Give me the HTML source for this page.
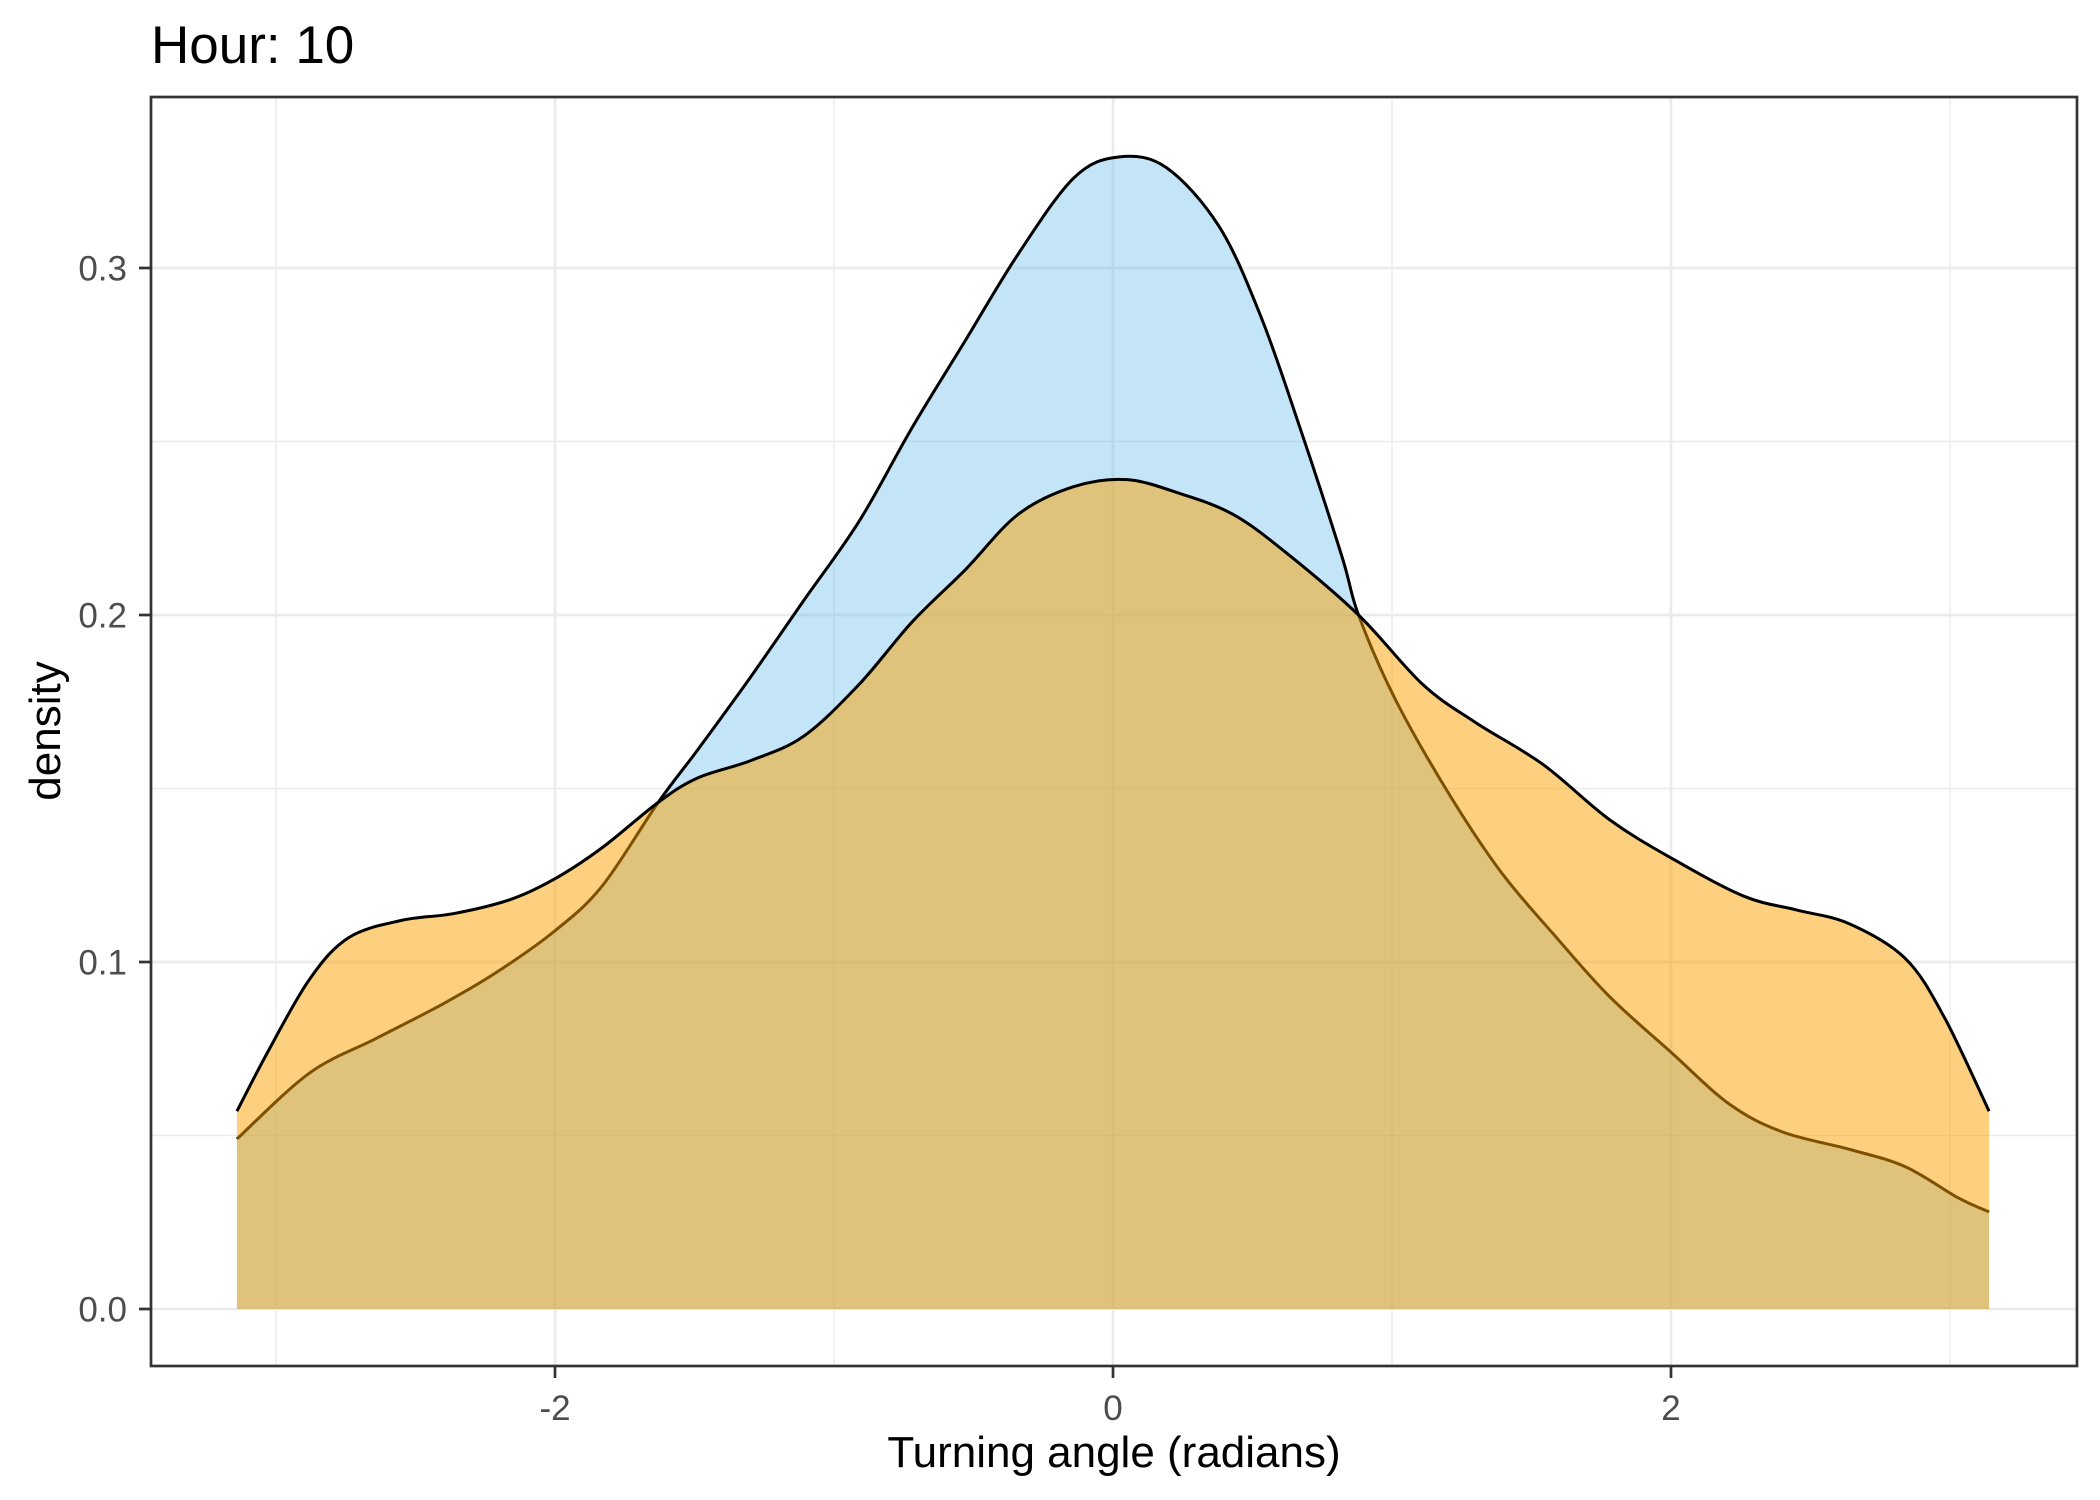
<!DOCTYPE html>
<html><head><meta charset="utf-8"><style>
html,body{margin:0;padding:0;background:#fff;}
svg{display:block;font-family:"Liberation Sans",Arial,sans-serif;}
</style></head><body>
<svg id="chart" width="2100" height="1500" viewBox="0 0 2100 1500" xmlns="http://www.w3.org/2000/svg">
<rect x="0" y="0" width="2100" height="1500" fill="#fff"/>
<text x="151" y="63" font-size="53" fill="#000">Hour: 10</text>
<g id="grid"></g>
<g id="series"></g>
<rect x="151" y="97" width="1926" height="1269" fill="none" stroke="#333" stroke-width="2.7"/>
<g id="axes"></g>
<text x="1114" y="1467" font-size="44" text-anchor="middle" fill="#000">Turning angle (radians)</text>
<text transform="translate(60,731) rotate(-90)" font-size="44" text-anchor="middle" fill="#000">density</text>
</svg>
<script>
const angles = [-3.14,-2.88,-2.64,-2.4,-2.21,-2.0,-1.83,-1.63,-1.49,-1.3,-1.11,-0.91,-0.72,-0.53,-0.34,-0.14,0.02,0.19,0.38,0.53,0.67,0.82,0.88,1.01,1.2,1.39,1.59,1.78,2.0,2.21,2.4,2.64,2.84,3.03,3.14];
const blueDensity = [0.049,0.068,0.078,0.088,0.097,0.109,0.122,0.146,0.161,0.182,0.204,0.227,0.254,0.279,0.304,0.326,0.332,0.329,0.312,0.286,0.254,0.217,0.2,0.176,0.149,0.126,0.107,0.09,0.074,0.059,0.051,0.046,0.041,0.032,0.028];
const orangeAngles = [-3.14,-3.03,-2.88,-2.74,-2.55,-2.36,-2.16,-2.0,-1.83,-1.63,-1.49,-1.3,-1.11,-0.91,-0.72,-0.53,-0.34,-0.14,0.05,0.24,0.43,0.62,0.88,1.11,1.3,1.54,1.78,2.0,2.26,2.45,2.64,2.84,2.98,3.14];
const orangeDensity = [0.057,0.074,0.095,0.107,0.112,0.114,0.118,0.124,0.133,0.146,0.153,0.158,0.165,0.18,0.198,0.213,0.229,0.237,0.239,0.235,0.229,0.218,0.2,0.18,0.169,0.157,0.141,0.13,0.119,0.115,0.111,0.101,0.084,0.057];
const xMajor = [-2,0,2];
const xMinor = [-3,-1,1,3];
const yMajor = [0,0.1,0.2,0.3];
const yMinor = [0.05,0.15,0.25];
const yLabels = ["0.0","0.1","0.2","0.3"];
const xLabels = ["-2","0","2"];

const NS="http://www.w3.org/2000/svg";
const X=v=>1113+279*v;
const Y=v=>1309-3470*v;
const L=151,R=2077,T=97,B=1366;
function mk(tag,attrs,parent){const e=document.createElementNS(NS,tag);for(const k in attrs)e.setAttribute(k,attrs[k]);parent.appendChild(e);return e;}
const grid=document.getElementById('grid'),axes=document.getElementById('axes'),series=document.getElementById('series');
xMinor.forEach(v=>{const e=mk('line',{x1:X(v),x2:X(v),y1:T,y2:B,stroke:'#EBEBEB','stroke-width':1.4},grid);

});
yMinor.forEach(v=>{const e=mk('line',{x1:L,x2:R,y1:Y(v),y2:Y(v),stroke:'#EBEBEB','stroke-width':1.4},grid);

});
xMajor.forEach((v,i)=>{const e=mk('line',{x1:X(v),x2:X(v),y1:T,y2:B,stroke:'#EBEBEB','stroke-width':2.7},grid);


const t=mk('line',{x1:X(v),x2:X(v),y1:B,y2:B+12,stroke:'#333','stroke-width':2.7},axes);


const l=mk('text',{x:X(v),y:1420,'font-size':35,'text-anchor':'middle',fill:'#4D4D4D'},axes);l.textContent=xLabels[i];

});
yMajor.forEach((v,i)=>{const e=mk('line',{x1:L,x2:R,y1:Y(v),y2:Y(v),stroke:'#EBEBEB','stroke-width':2.7},grid);


const t=mk('line',{x1:L-12,x2:L,y1:Y(v),y2:Y(v),stroke:'#333','stroke-width':2.7},axes);


const l=mk('text',{x:127,y:Y(v)+12.5,'font-size':35,'text-anchor':'end',fill:'#4D4D4D'},axes);l.textContent=yLabels[i];

});
function smooth(xs,ys){const p=xs.map((x,i)=>[X(x),Y(ys[i])]);let d='M'+p[0][0]+','+p[0][1];
for(let i=0;i<p.length-1;i++){const p0=p[Math.max(i-1,0)],p1=p[i],p2=p[i+1],p3=p[Math.min(i+2,p.length-1)];
const c1=[p1[0]+(p2[0]-p0[0])/6,p1[1]+(p2[1]-p0[1])/6],c2=[p2[0]-(p3[0]-p1[0])/6,p2[1]-(p3[1]-p1[1])/6];
d+=' C'+c1.join(',')+' '+c2.join(',')+' '+p2.join(',');}return d;}
function draw(xs,ys,fill,op,name){const line=smooth(xs,ys);
const area=line+' L'+X(xs[xs.length-1])+','+Y(0)+' L'+X(xs[0])+','+Y(0)+' Z';
const a=mk('path',{d:area,fill:fill,'fill-opacity':op,stroke:'none'},series);


const l=mk('path',{d:line,fill:'none',stroke:'#000','stroke-width':3},series);

}
draw(angles,blueDensity,'#56B4E9',0.35,'blue-density');
draw(orangeAngles,orangeDensity,'#F9A200',0.5,'orange-density');
</script>
</body></html>
